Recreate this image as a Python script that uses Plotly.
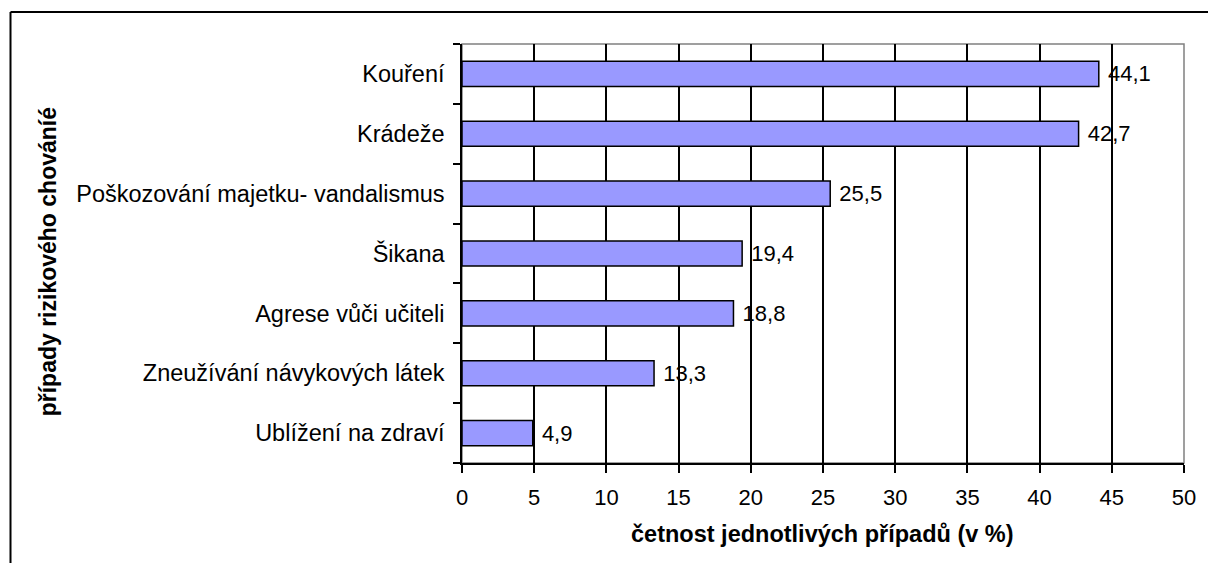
import plotly.graph_objects as go

categories = ["Kouření", "Krádeže", "Poškozování majetku- vandalismus", "Šikana",
              "Agrese vůči učiteli", "Zneužívání návykových látek", "Ublížení na zdraví"]
values = [44.1, 42.7, 25.5, 19.4, 18.8, 13.3, 4.9]
value_labels = ["44,1", "42,7", "25,5", "19,4", "18,8", "13,3", "4,9"]
x_ticks = [0, 5, 10, 15, 20, 25, 30, 35, 40, 45, 50]
x_title = "četnost jednotlivých případů (v %)"
y_title = "případy rizikového chováníé"

FONT = "Liberation Sans, Arial, sans-serif"
W, H = 1208, 563
L, R, T, B = 462, 1188, 44, 463
PW, PH = R - L, B - T

fig = go.Figure(go.Bar(
    y=categories, x=values, orientation="h",
    text=[" " + s for s in value_labels], textposition="outside", cliponaxis=False,
    textfont=dict(family=FONT, size=22, color="black"),
    marker=dict(color="#9999FF", line=dict(color="black", width=1.5)),
))

fig.update_layout(
    width=W, height=H,
    margin=dict(l=L, r=W - R, t=T, b=H - B),
    paper_bgcolor="white", plot_bgcolor="white",
    showlegend=False, bargap=0.58,
    font=dict(family=FONT, size=22, color="black"),
    xaxis=dict(range=[0, 50], tickvals=x_ticks, ticktext=[str(t) for t in x_ticks],
               showgrid=True, gridcolor="black", gridwidth=1.5,
               ticks="outside", ticklen=8, tickwidth=1.5, tickcolor="black",
               showline=True, linecolor="black", linewidth=1.5,
               zeroline=False, ticklabelstandoff=6, tickfont=dict(size=22)),
    yaxis=dict(categoryorder="array", categoryarray=categories[::-1],
               tickson="boundaries", ticks="outside", ticklen=7, tickwidth=1.5,
               tickcolor="black", showgrid=False,
               showline=True, linecolor="black", linewidth=1.5,
               ticklabelstandoff=11, tickfont=dict(size=23.5)),
    shapes=[
        dict(type="rect", xref="paper", yref="paper", x0=0, x1=1, y0=0, y1=1,
             line=dict(color="#808080", width=1.5), layer="below"),
        dict(type="line", xref="paper", yref="paper", x0=-(L - 8) / PW, x1=(W + 10 - L) / PW,
             y0=1 + (T - 12) / PH, y1=1 + (T - 12) / PH, line=dict(color="black", width=2)),
        dict(type="line", xref="paper", yref="paper", x0=-(L - 8) / PW, x1=-(L - 8) / PW,
             y0=1 + (T - 12) / PH, y1=-(H + 10 - B) / PH, line=dict(color="black", width=2)),
    ],
    annotations=[
        dict(text="<b>" + x_title + "</b>", xref="paper", yref="paper",
             x=(824 - L) / PW, y=-(534 - B) / PH, xanchor="center", yanchor="middle",
             showarrow=False, font=dict(size=23.5)),
        dict(text="<b>" + y_title + "</b>", xref="paper", yref="paper",
             x=-(L - 46) / PW, y=(B - 262) / PH, xanchor="center", yanchor="middle",
             textangle=-90, showarrow=False, font=dict(size=23)),
    ],
)

fig.write_html("out.html", config={"displayModeBar": False},
               post_script="document.body.style.margin='0';document.body.style.overflow='hidden';")
